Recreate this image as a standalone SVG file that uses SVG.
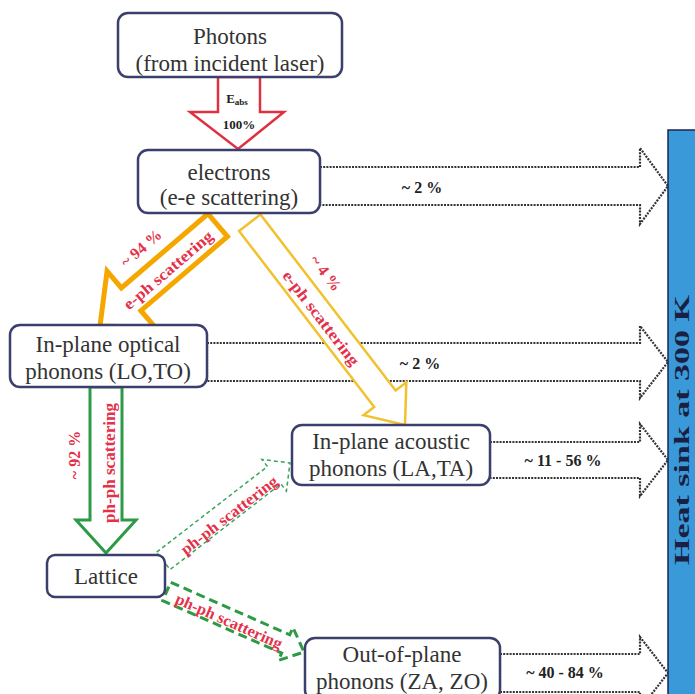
<svg xmlns="http://www.w3.org/2000/svg" width="695" height="694" viewBox="0 0 695 694">
<style>
.box{fill:#fff;stroke:#3b3f6b;stroke-width:2.5}
.nt{font-family:"Liberation Serif","Times New Roman",serif;font-size:23px;fill:#333;text-anchor:middle}
.dot{fill:none;stroke:#333;stroke-width:2.2;stroke-dasharray:2 1.2}
.pct{font-family:"Liberation Serif","Times New Roman",serif;font-size:16px;font-weight:bold;fill:#222;text-anchor:middle}
.rl{font-family:"Liberation Serif","Times New Roman",serif;font-size:16px;font-weight:bold;fill:#e5304a;text-anchor:middle;dominant-baseline:central}
.blk{fill:#fff;stroke-linejoin:miter}
</style>
<rect width="695" height="694" fill="#fff"/>
<g id="connectors">
  <path class="dot" d="M320,167 H640 V148 L668,186 L640,224 V205 H320 Z"/>
  <path class="dot" d="M207,343 H640 V326 L668,362 L640,398 V381 H207 Z"/>
  <path class="dot" d="M490,442 H640 V424 L668,460 L640,496 V478 H490 Z"/>
  <path class="dot" d="M500,654 H640 V637 L668,673 L640,709 V692 H500 Z"/>
  <text class="pct" x="422" y="193">~ 2 %</text>
  <text class="pct" x="420" y="369">~ 2 %</text>
  <text class="pct" x="563" y="466">~ 11 - 56 %</text>
  <text class="pct" x="565" y="678">~ 40 - 84 %</text>

  <polygon class="blk" points="218,77 218,112 190,112 238,149 284,112 260,112 260,77" stroke="#e03040" stroke-width="2.5"/>
  <text class="pct" x="237" y="103" style="font-size:13px">E<tspan style="font-size:9px" dy="2">abs</tspan></text>
  <text class="pct" x="239" y="129" style="font-size:13px">100%</text>

  <polygon class="blk" transform="translate(100,326) rotate(139.4)" points="-155,-15 -41,-15 -41,-37 0,0 -41,37 -41,15 -155,15" stroke="#f5a700" stroke-width="5"/>
  <text class="rl" transform="translate(141,248) rotate(-40.6)">~ 94 %</text>
  <text class="rl" transform="translate(168,270) rotate(-40.6)" textLength="112" lengthAdjust="spacingAndGlyphs">e-ph scattering</text>

  <polygon class="blk" transform="translate(405,425) rotate(52.5)" points="-255,-13.5 -33,-13.5 -33,-27 0,0 -33,27 -33,13.5 -255,13.5" stroke="#f2c12e" stroke-width="2.5"/>
  <text class="rl" transform="translate(326,273) rotate(52.5)">~ 4 %</text>
  <text class="rl" transform="translate(321,318) rotate(52.5)" textLength="115" lengthAdjust="spacingAndGlyphs">e-ph scattering</text>

  <polygon class="blk" points="90,387 90,520 76,520 106,553 136,520 122,520 122,387" stroke="#2d9a45" stroke-width="3"/>
  <text class="rl" transform="translate(74,455) rotate(-90)">~ 92 %</text>
  <text class="rl" transform="translate(109,463) rotate(-90)" textLength="120" lengthAdjust="spacingAndGlyphs">ph-ph scattering</text>

  <polygon class="blk" transform="translate(290,463) rotate(-37.7)" points="-160,-11 -20,-11 -20,-20 0,0 -20,20 -20,11 -160,11" stroke="#3aa55a" stroke-width="1.5" stroke-dasharray="4 3"/>
  <text class="rl" transform="translate(229,515) rotate(-37.7)" textLength="118" lengthAdjust="spacingAndGlyphs">ph-ph scattering</text>

  <polygon class="blk" transform="translate(304,652) rotate(23.8)" points="-150,-10 -20,-10 -20,-18 0,0 -20,18 -20,10 -150,10" stroke="#2d9a45" stroke-width="3" stroke-dasharray="9 5"/>
  <text class="rl" transform="translate(229,621) rotate(23.8)" textLength="115" lengthAdjust="spacingAndGlyphs">ph-ph scattering</text>
</g>
<g id="photons">
  <rect class="box" x="118" y="13" width="224" height="64" rx="10"/>
  <text class="nt" x="230" y="44">Photons</text>
  <text class="nt" x="230" y="71">(from incident laser)</text>
</g>
<g id="electrons">
  <rect class="box" x="138" y="150" width="182" height="63" rx="10"/>
  <text class="nt" x="229" y="180">electrons</text>
  <text class="nt" x="229" y="205">(e-e scattering)</text>
</g>
<g id="optical">
  <rect class="box" x="10" y="325" width="197" height="62" rx="10"/>
  <text class="nt" x="108" y="352">In-plane optical</text>
  <text class="nt" x="108" y="379">phonons (LO,TO)</text>
</g>
<g id="acoustic">
  <rect class="box" x="292" y="425" width="198" height="60" rx="10"/>
  <text class="nt" x="391" y="449">In-plane acoustic</text>
  <text class="nt" x="391" y="476">phonons (LA,TA)</text>
</g>
<g id="lattice">
  <rect class="box" x="47" y="555" width="118" height="42" rx="8"/>
  <text class="nt" x="106" y="584">Lattice</text>
</g>
<g id="outofplane">
  <rect class="box" x="305" y="638" width="195" height="62" rx="10"/>
  <text class="nt" x="402" y="662">Out-of-plane</text>
  <text class="nt" x="402" y="689">phonons (ZA, ZO)</text>
</g>
<g id="heatsink">
  <rect x="668" y="130" width="30" height="570" fill="#3a9ad9" stroke="#1c2550" stroke-width="1.5"/>
  <text x="0" y="7" transform="translate(682,430) rotate(-90)" style="font-family:'Liberation Serif','Times New Roman',serif;font-size:21px;font-weight:bold;fill:#1a1f45;text-anchor:middle" textLength="270" lengthAdjust="spacingAndGlyphs">Heat sink at 300 K</text>
</g>
</svg>
